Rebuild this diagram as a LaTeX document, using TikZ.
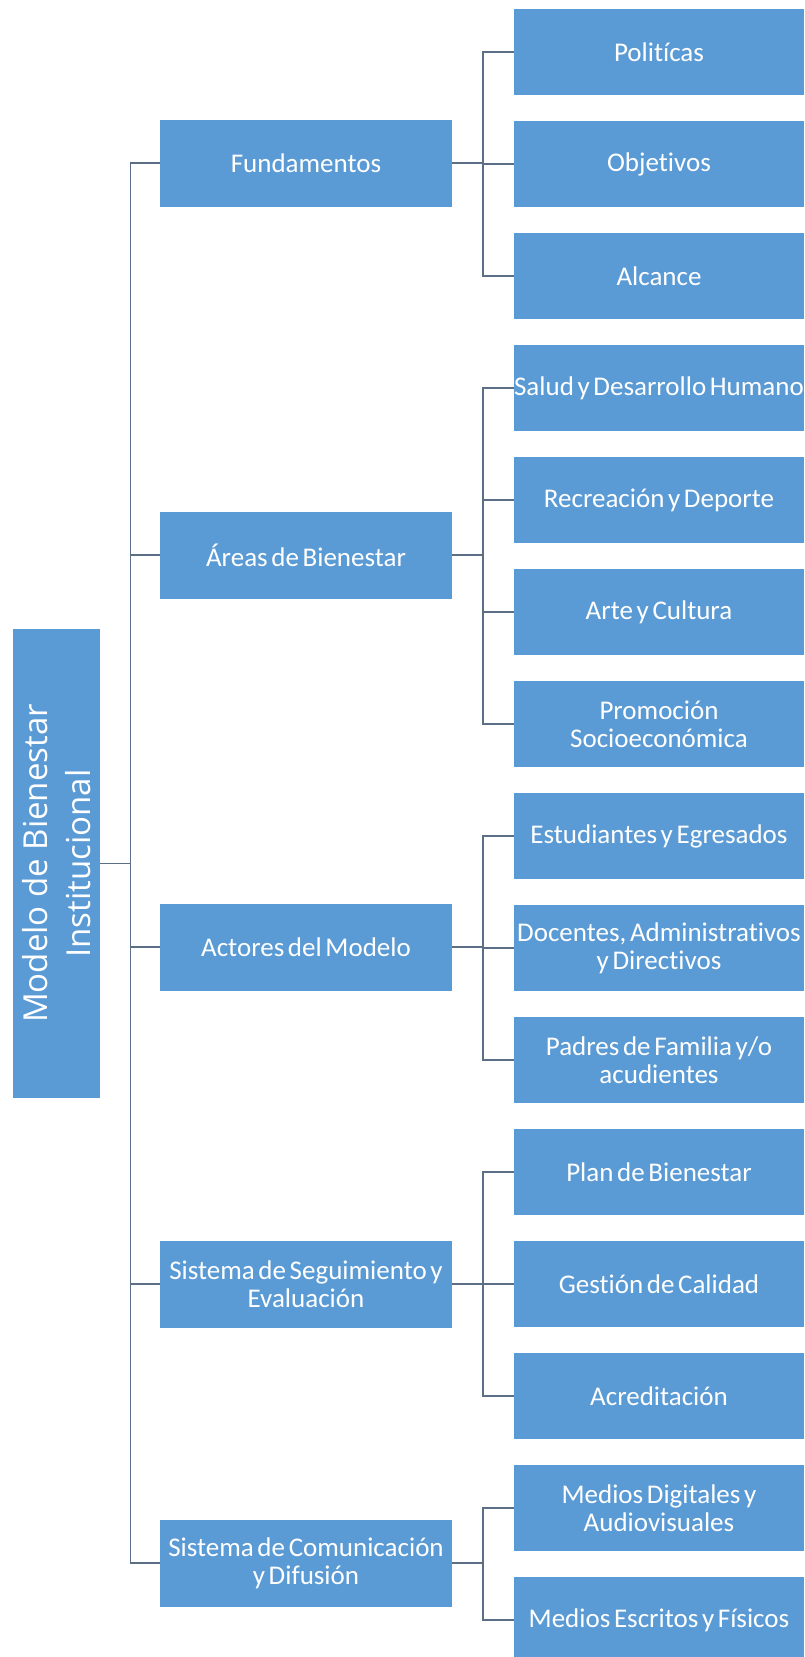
\documentclass[tikz,border=0pt]{standalone}
\usepackage{fontspec}
\newfontfamily\boxfont[RawFeature=-liga, WordSpace=0.6]{Carlito}
\newfontfamily\rootfont{Open Sans}
\definecolor{boxblue}{HTML}{5B9BD5}
\definecolor{connc}{RGB}{92,110,134}
\begin{document}
\begin{tikzpicture}[x=1pt,y=-1pt,
  box/.style={draw=none, fill=boxblue, text=white, inner sep=0pt, align=center,
    font=\boxfont\fontsize{27}{28}\selectfont},
  lone/.style={box, minimum width=292pt, minimum height=87pt},
  ltwo/.style={box, minimum width=290pt, minimum height=86pt},
  rootbox/.style={draw=none, fill=boxblue, text=white, inner sep=0pt,
    minimum width=87pt, minimum height=469pt},
  conn/.style={draw=connc, line width=1.9pt}]
\useasboundingbox (0,0) rectangle (804,1657);
\clip (0,0) rectangle (804,1657);
% root
\node[rootbox] (root) at (56.5,863.5) {};
\node[rotate=90, text=white, align=center, inner sep=0pt,
  font=\rootfont\fontsize{33}{43}\selectfont] (roottext) at (root.center)
  {Modelo de Bienestar\\Institucional};
% level 1
\node[lone] (f1) at (306,163) {Fundamentos};
\node[lone] (f2) at (306,555) {Áreas de Bienestar};
\node[lone] (f3) at (306,947) {Actores del Modelo};
\node[lone] (f4) at (306,1284) {Sistema de Seguimiento y\\Evaluación};
\node[lone] (f5) at (306,1563) {Sistema de Comunicación\\y Difusión};
% level 2
\node[ltwo] (a1) at (659,52) {Politícas};
\node[ltwo] (a2) at (659,164) {Objetivos};
\node[ltwo] (a3) at (659,276) {Alcance};
\node[ltwo] (b1) at (659,388) {Salud y Desarrollo Humano};
\node[ltwo] (b2) at (659,500) {Recreación y Deporte};
\node[ltwo] (b3) at (659,612) {Arte y Cultura};
\node[ltwo] (b4) at (659,724) {Promoción\\Socioeconómica};
\node[ltwo] (c1) at (659,836) {Estudiantes y Egresados};
\node[ltwo] (c2) at (659,948) {Docentes, Administrativos\\y Directivos};
\node[ltwo] (c3) at (659,1060) {Padres de Familia y/o\\acudientes};
\node[ltwo] (d1) at (659,1172) {Plan de Bienestar};
\node[ltwo] (d2) at (659,1284) {Gestión de Calidad};
\node[ltwo] (d3) at (659,1396) {Acreditación};
\node[ltwo] (e1) at (659,1508) {Medios Digitales y\\Audiovisuales};
\node[ltwo] (e2) at (659,1620) {Medios Escritos y Físicos};
% connectors
\coordinate (t) at (130.5,0);
\coordinate (b) at (483,0);
\foreach \n in {f1,f2,f3,f4,f5}
  \draw[conn] (root.east) -- (root.east -| t) |- (\n.west);
\foreach \n in {a1,a2,a3}
  \draw[conn] (f1.east) -- (f1.east -| b) |- (\n.west);
\foreach \n in {b1,b2,b3,b4}
  \draw[conn] (f2.east) -- (f2.east -| b) |- (\n.west);
\foreach \n in {c1,c2,c3}
  \draw[conn] (f3.east) -- (f3.east -| b) |- (\n.west);
\foreach \n in {d1,d2,d3}
  \draw[conn] (f4.east) -- (f4.east -| b) |- (\n.west);
\foreach \n in {e1,e2}
  \draw[conn] (f5.east) -- (f5.east -| b) |- (\n.west);
\end{tikzpicture}
\end{document}
